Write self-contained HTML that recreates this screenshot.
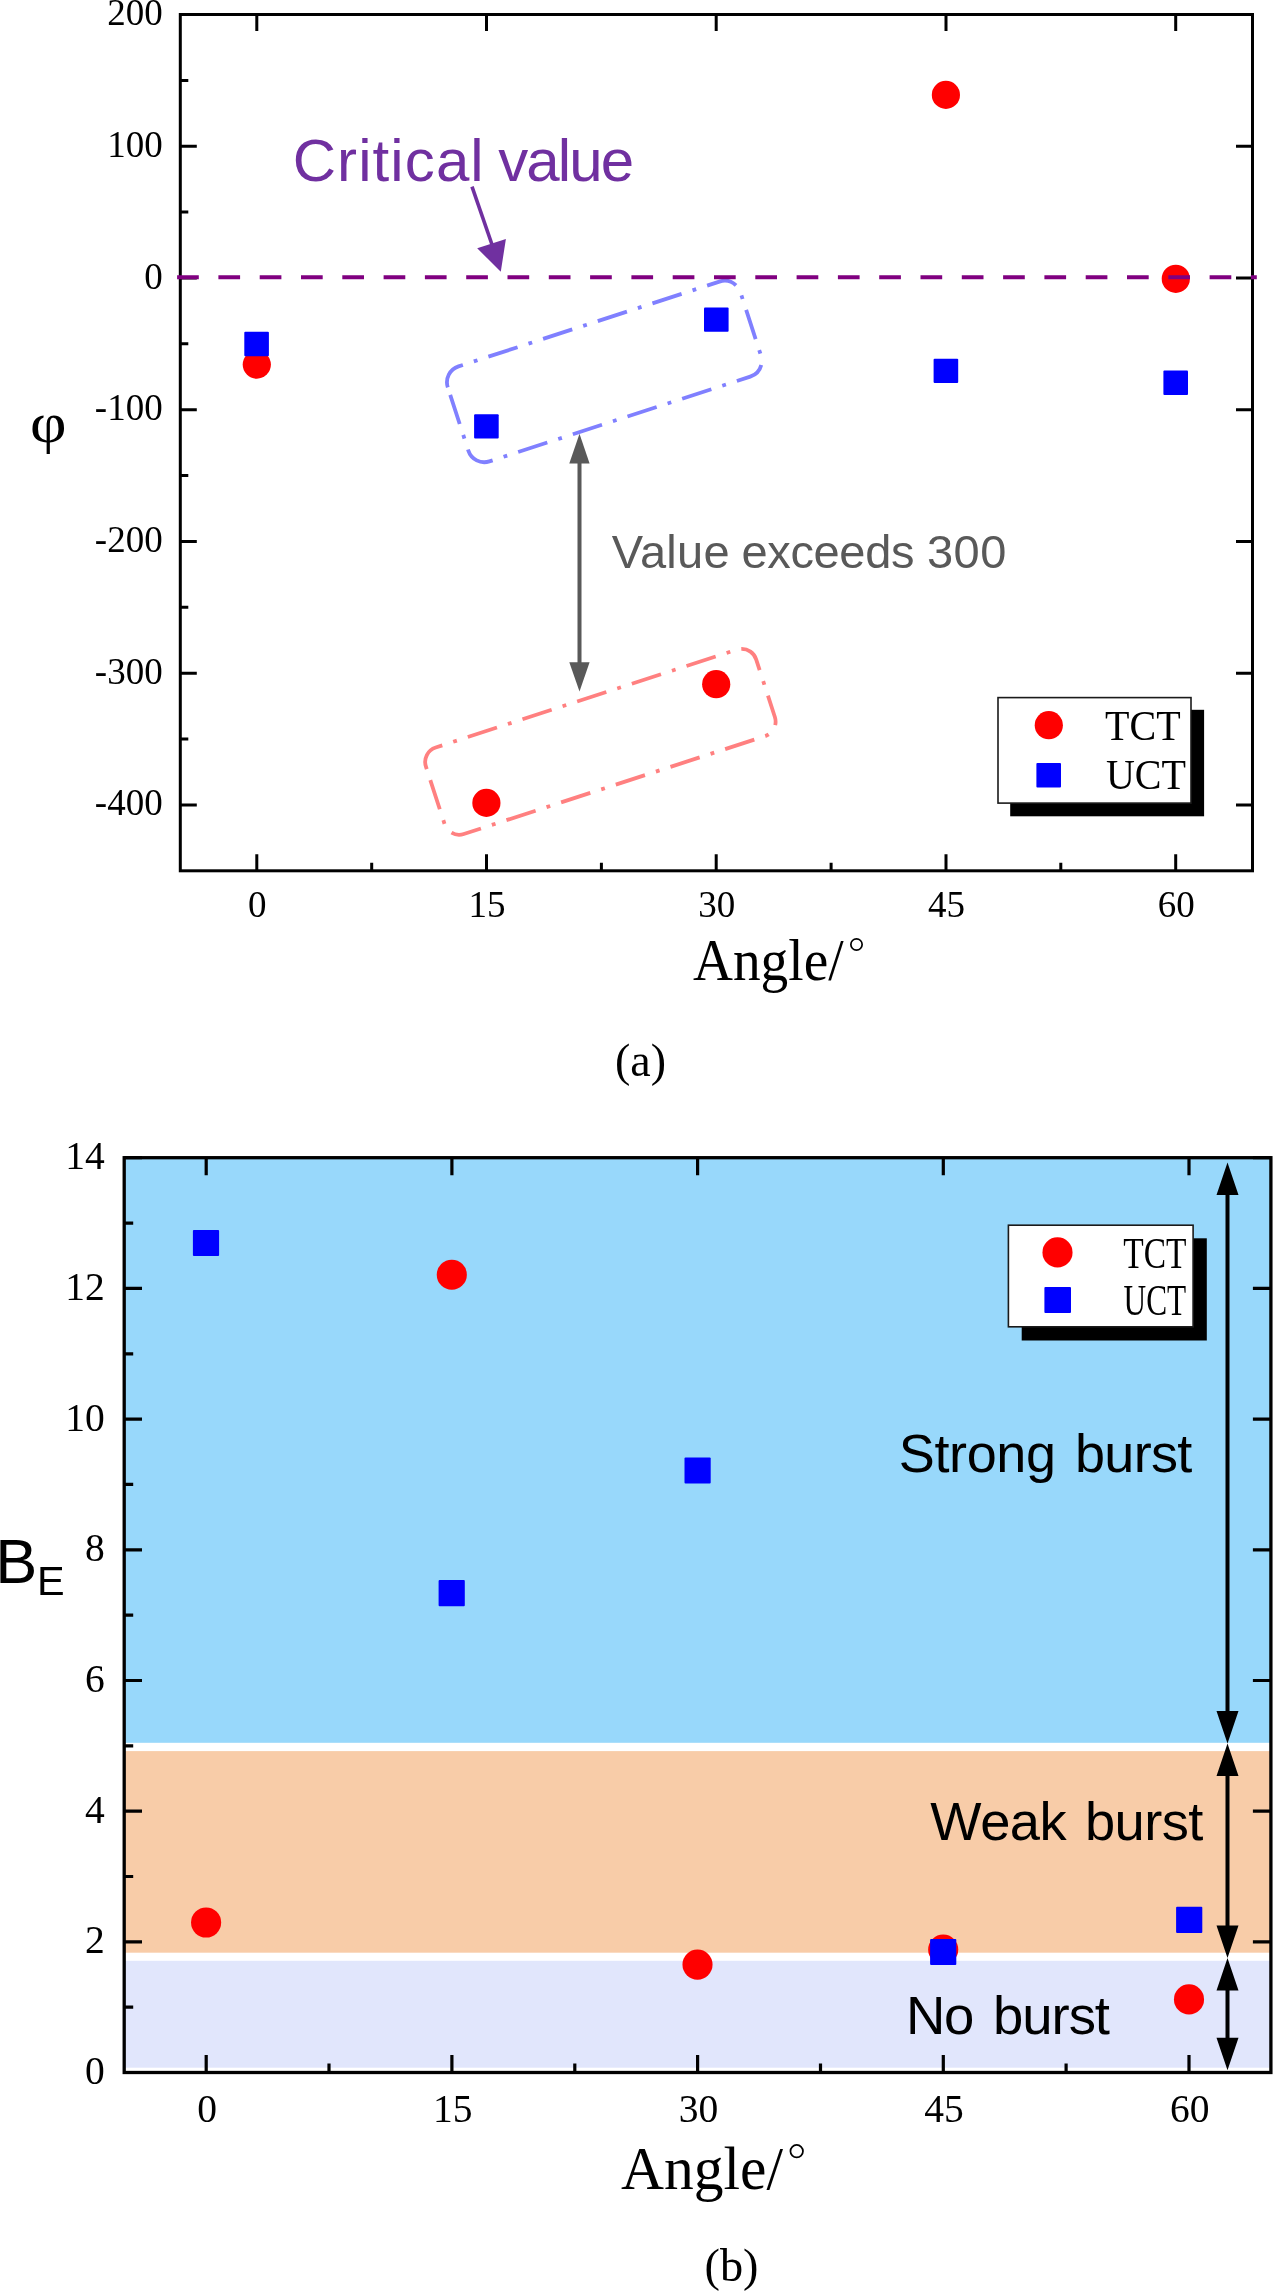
<!DOCTYPE html>
<html><head><meta charset="utf-8"><style>
html,body{margin:0;padding:0;background:#fff;overflow:hidden;}
svg{display:block;}
</style></head><body>
<svg style="will-change:transform" width="1273" height="2291" viewBox="0 0 1273 2291">
<rect width="1273" height="2291" fill="#fff"/>
<path d="M256.8 870.8V854.3M256.8 14.5V31.0M486.5 870.8V854.3M486.5 14.5V31.0M716.2 870.8V854.3M716.2 14.5V31.0M946.0 870.8V854.3M946.0 14.5V31.0M1175.7 870.8V854.3M1175.7 14.5V31.0M371.7 870.8V862.8M601.4 870.8V862.8M831.1 870.8V862.8M1060.8 870.8V862.8M180.3 804.9H196.8M1252.5 804.9H1236.0M180.3 673.2H196.8M1252.5 673.2H1236.0M180.3 541.5H196.8M1252.5 541.5H1236.0M180.3 409.7H196.8M1252.5 409.7H1236.0M180.3 278.0H196.8M1252.5 278.0H1236.0M180.3 146.2H196.8M1252.5 146.2H1236.0M180.3 739.1H188.3M180.3 607.3H188.3M180.3 475.6H188.3M180.3 343.8H188.3M180.3 212.1H188.3M180.3 80.4H188.3" stroke="#000" stroke-width="3" fill="none"/>
<rect x="180.3" y="14.5" width="1072.2" height="856.3" fill="none" stroke="#000" stroke-width="3"/>
<text x="162.7" y="815.4" font-family="Liberation Serif" font-size="37" text-anchor="end">-400</text>
<text x="162.7" y="683.7" font-family="Liberation Serif" font-size="37" text-anchor="end">-300</text>
<text x="162.7" y="552.0" font-family="Liberation Serif" font-size="37" text-anchor="end">-200</text>
<text x="162.7" y="420.2" font-family="Liberation Serif" font-size="37" text-anchor="end">-100</text>
<text x="162.7" y="288.5" font-family="Liberation Serif" font-size="37" text-anchor="end">0</text>
<text x="162.7" y="156.7" font-family="Liberation Serif" font-size="37" text-anchor="end">100</text>
<text x="162.7" y="25.0" font-family="Liberation Serif" font-size="37" text-anchor="end">200</text>
<text x="257.3" y="916.9" font-family="Liberation Serif" font-size="37" text-anchor="middle">0</text>
<text x="487.0" y="916.9" font-family="Liberation Serif" font-size="37" text-anchor="middle">15</text>
<text x="716.8" y="916.9" font-family="Liberation Serif" font-size="37" text-anchor="middle">30</text>
<text x="946.5" y="916.9" font-family="Liberation Serif" font-size="37" text-anchor="middle">45</text>
<text x="1176.2" y="916.9" font-family="Liberation Serif" font-size="37" text-anchor="middle">60</text>
<path d="M-153.85 -33.25A16.7 16.7 0 0 1 -137.15 -49.95H137.15A16.7 16.7 0 0 1 153.85 -33.25V33.25A16.7 16.7 0 0 1 137.15 49.95H-137.15A16.7 16.7 0 0 1 -153.85 33.25Z" transform="translate(604.4 371.5) rotate(-18)" fill="none" stroke="#8080FF" stroke-width="3.8" stroke-dasharray="30.66 11.50 3.83 11.50"/>
<path d="M-173.6 -30.3A15.2 15.2 0 0 1 -158.4 -45.5H158.4A15.2 15.2 0 0 1 173.6 -30.3V30.3A15.2 15.2 0 0 1 158.4 45.5H-158.4A15.2 15.2 0 0 1 -173.6 30.3Z" transform="translate(600.4 741.8) rotate(-18)" fill="none" stroke="#FF8080" stroke-width="3.8" stroke-dasharray="30.66 11.50 3.83 11.50"/>
<circle cx="256.8" cy="364.6" r="14.1" fill="#FF0000"/>
<circle cx="486.4" cy="802.9" r="14.1" fill="#FF0000"/>
<circle cx="716.2" cy="684.2" r="14.1" fill="#FF0000"/>
<circle cx="945.9" cy="94.9" r="14.1" fill="#FF0000"/>
<circle cx="1175.8" cy="278.8" r="14.1" fill="#FF0000"/>
<rect x="244.3" y="331.8" width="24.6" height="24.4" rx="1" fill="#0000FF"/>
<rect x="474.1" y="414.2" width="24.6" height="24.4" rx="1" fill="#0000FF"/>
<rect x="704.0" y="307.4" width="24.6" height="24.4" rx="1" fill="#0000FF"/>
<rect x="933.6" y="358.7" width="24.6" height="24.4" rx="1" fill="#0000FF"/>
<rect x="1163.4" y="370.6" width="24.6" height="24.4" rx="1" fill="#0000FF"/>
<path d="M177.1 277.3H1256.8" stroke="#800080" stroke-width="4" stroke-dasharray="21.7 19.6"/>
<text x="292.70" y="181" font-family="Liberation Sans" font-size="60" letter-spacing="1.093" fill="#7030A0">Critical</text>
<text x="498.25" y="181" font-family="Liberation Sans" font-size="60" letter-spacing="-1.900" fill="#7030A0">value</text>
<path d="M472 186.6L492.5 246" stroke="#7030A0" stroke-width="3.6"/>
<path d="M500.8 271.7L477.2 248.3L505.9 238.9Z" fill="#7030A0"/>
<path d="M579.5 455V670" stroke="#595959" stroke-width="4"/>
<path d="M579.5 433.7L569.3 463.6H589.6Z" fill="#595959"/>
<path d="M579.5 691.5L569.3 662.3H589.6Z" fill="#595959"/>
<text x="611.85" y="568.2" font-family="Liberation Sans" font-size="47" letter-spacing="0.262" fill="#595959">Value</text>
<text x="741.50" y="568.2" font-family="Liberation Sans" font-size="47" letter-spacing="-0.358" fill="#595959">exceeds</text>
<text x="926.95" y="568.2" font-family="Liberation Sans" font-size="47" letter-spacing="0.475" fill="#595959">300</text>
<rect x="1010.2" y="709.8" width="193.9" height="106.5" fill="#000"/>
<rect x="998.0" y="697.6" width="193" height="105.5" fill="#fff" stroke="#1a1a1a" stroke-width="1.6"/>
<circle cx="1048.8" cy="725.2" r="14.1" fill="#FF0000"/>
<rect x="1036.4" y="763" width="24.6" height="24.4" rx="1" fill="#0000FF"/>
<text transform="translate(1105.1,740) scale(0.96,1)" font-family="Liberation Serif" font-size="41.7">TCT</text>
<text transform="translate(1105.9,789.4) scale(0.96,1)" font-family="Liberation Serif" font-size="41.7">UCT</text>
<text transform="translate(30,442) scale(1.11,1)" font-family="Liberation Serif" font-size="57">φ</text>
<text transform="translate(693,979.7) scale(0.93,1)" font-family="Liberation Serif" font-size="59.5">Angle/</text>
<circle cx="856.5" cy="944.5" r="5.65" fill="none" stroke="#000" stroke-width="1.7"/>
<text x="615" y="1075.5" font-family="Liberation Serif" font-size="46">(a)</text>
<rect x="124.2" y="1157.7" width="1146.7" height="585.1" fill="#98D8FB"/>
<rect x="124.2" y="1751.1" width="1146.7" height="201.6" fill="#F8CCA8"/>
<rect x="124.2" y="1960.8" width="1146.7" height="106.9" fill="#E1E6FC"/>
<path d="M206.2 2072.5V2055.0M206.2 1157.7V1175.2M451.9 2072.5V2055.0M451.9 1157.7V1175.2M697.6 2072.5V2055.0M697.6 1157.7V1175.2M943.3 2072.5V2055.0M943.3 1157.7V1175.2M1189.0 2072.5V2055.0M1189.0 1157.7V1175.2M329.0 2072.5V2063.5M574.8 2072.5V2063.5M820.5 2072.5V2063.5M1066.1 2072.5V2063.5M124.2 2072.5H142.0M1270.9 2072.5H1252.9M124.2 1941.8H142.0M1270.9 1941.8H1252.9M124.2 1811.1H142.0M1270.9 1811.1H1252.9M124.2 1680.5H142.0M1270.9 1680.5H1252.9M124.2 1549.8H142.0M1270.9 1549.8H1252.9M124.2 1419.1H142.0M1270.9 1419.1H1252.9M124.2 1288.4H142.0M1270.9 1288.4H1252.9M124.2 1157.7H142.0M1270.9 1157.7H1252.9M124.2 2007.2H133.2M124.2 1876.5H133.2M124.2 1745.8H133.2M124.2 1615.1H133.2M124.2 1484.4H133.2M124.2 1353.8H133.2M124.2 1223.1H133.2" stroke="#000" stroke-width="3.2" fill="none"/>
<rect x="124.2" y="1157.7" width="1146.7" height="914.8" fill="none" stroke="#000" stroke-width="3.3"/>
<text x="104.7" y="2084.0" font-family="Liberation Serif" font-size="39.5" text-anchor="end">0</text>
<text x="104.7" y="1953.3" font-family="Liberation Serif" font-size="39.5" text-anchor="end">2</text>
<text x="104.7" y="1822.6" font-family="Liberation Serif" font-size="39.5" text-anchor="end">4</text>
<text x="104.7" y="1692.0" font-family="Liberation Serif" font-size="39.5" text-anchor="end">6</text>
<text x="104.7" y="1561.3" font-family="Liberation Serif" font-size="39.5" text-anchor="end">8</text>
<text x="104.7" y="1430.6" font-family="Liberation Serif" font-size="39.5" text-anchor="end">10</text>
<text x="104.7" y="1299.9" font-family="Liberation Serif" font-size="39.5" text-anchor="end">12</text>
<text x="104.7" y="1169.2" font-family="Liberation Serif" font-size="39.5" text-anchor="end">14</text>
<text x="207.0" y="2122.1" font-family="Liberation Serif" font-size="39.5" text-anchor="middle">0</text>
<text x="452.7" y="2122.1" font-family="Liberation Serif" font-size="39.5" text-anchor="middle">15</text>
<text x="698.4" y="2122.1" font-family="Liberation Serif" font-size="39.5" text-anchor="middle">30</text>
<text x="944.1" y="2122.1" font-family="Liberation Serif" font-size="39.5" text-anchor="middle">45</text>
<text x="1189.8" y="2122.1" font-family="Liberation Serif" font-size="39.5" text-anchor="middle">60</text>
<circle cx="206.1" cy="1922.5" r="15.05" fill="#FF0000"/>
<circle cx="451.8" cy="1274.7" r="15.05" fill="#FF0000"/>
<circle cx="697.5" cy="1964.6" r="15.05" fill="#FF0000"/>
<circle cx="943.2" cy="1949.6" r="15.05" fill="#FF0000"/>
<circle cx="1189.0" cy="1999.4" r="15.05" fill="#FF0000"/>
<rect x="192.9" y="1229.9" width="26.2" height="26.2" rx="1" fill="#0000FF"/>
<rect x="438.6" y="1580.0" width="26.2" height="26.2" rx="1" fill="#0000FF"/>
<rect x="684.5" y="1457.4" width="26.2" height="26.2" rx="1" fill="#0000FF"/>
<rect x="930.1" y="1938.9" width="26.2" height="26.2" rx="1" fill="#0000FF"/>
<rect x="1176.1" y="1906.7" width="26.2" height="26.2" rx="1" fill="#0000FF"/>
<path d="M1227.5 1194.0V1712.1" stroke="#000" stroke-width="4"/><path d="M1227.5 1162.5L1216.5 1195.0H1238.5Z M1227.5 1743.6L1216.5 1711.1H1238.5Z" fill="#000"/>
<path d="M1227.5 1775.1V1926.5" stroke="#000" stroke-width="4"/><path d="M1227.5 1743.6L1216.5 1776.1H1238.5Z M1227.5 1958L1216.5 1925.5H1238.5Z" fill="#000"/>
<path d="M1227.5 1989.5V2038.6999999999998" stroke="#000" stroke-width="4"/><path d="M1227.5 1958L1216.5 1990.5H1238.5Z M1227.5 2070.2L1216.5 2037.6999999999998H1238.5Z" fill="#000"/>
<text x="898.80" y="1471.5" font-family="Liberation Sans" font-size="54" letter-spacing="-0.380" fill="#000">Strong</text>
<text x="1075.00" y="1471.5" font-family="Liberation Sans" font-size="54" letter-spacing="-0.700" fill="#000">burst</text>
<text x="930.35" y="1840.3" font-family="Liberation Sans" font-size="54.3" letter-spacing="-0.483" fill="#000">Weak</text>
<text x="1085.00" y="1840.3" font-family="Liberation Sans" font-size="54.3" letter-spacing="-0.587" fill="#000">burst</text>
<text x="905.90" y="2033.7" font-family="Liberation Sans" font-size="54.5" letter-spacing="-1.150" fill="#000">No</text>
<text x="993.00" y="2033.7" font-family="Liberation Sans" font-size="54.5" letter-spacing="-1.038" fill="#000">burst</text>
<rect x="1021.7" y="1238.3" width="185.1" height="102.2" fill="#000"/>
<rect x="1008.4" y="1225.2" width="184.7" height="101.6" fill="#fff" stroke="#1a1a1a" stroke-width="1.6"/>
<circle cx="1057.5" cy="1252.4" r="15.05" fill="#FF0000"/>
<rect x="1044.4" y="1286.9" width="26.6" height="26" rx="1" fill="#0000FF"/>
<text transform="translate(1123.3,1267.5) scale(0.755,1)" font-family="Liberation Serif" font-size="44.3">TCT</text>
<text transform="translate(1123.6,1314.6) scale(0.72,1)" font-family="Liberation Serif" font-size="43.5">UCT</text>
<text x="-4.8" y="1582.9" font-family="Liberation Sans" font-size="63">B</text>
<text x="36.9" y="1595.1" font-family="Liberation Sans" font-size="41.4">E</text>
<text transform="translate(621,2188.8) scale(0.96,1)" font-family="Liberation Serif" font-size="62">Angle/</text>
<circle cx="796.7" cy="2151.2" r="6.25" fill="none" stroke="#000" stroke-width="1.75"/>
<text x="704.5" y="2281" font-family="Liberation Serif" font-size="46.3">(b)</text>
</svg>
</body></html>
